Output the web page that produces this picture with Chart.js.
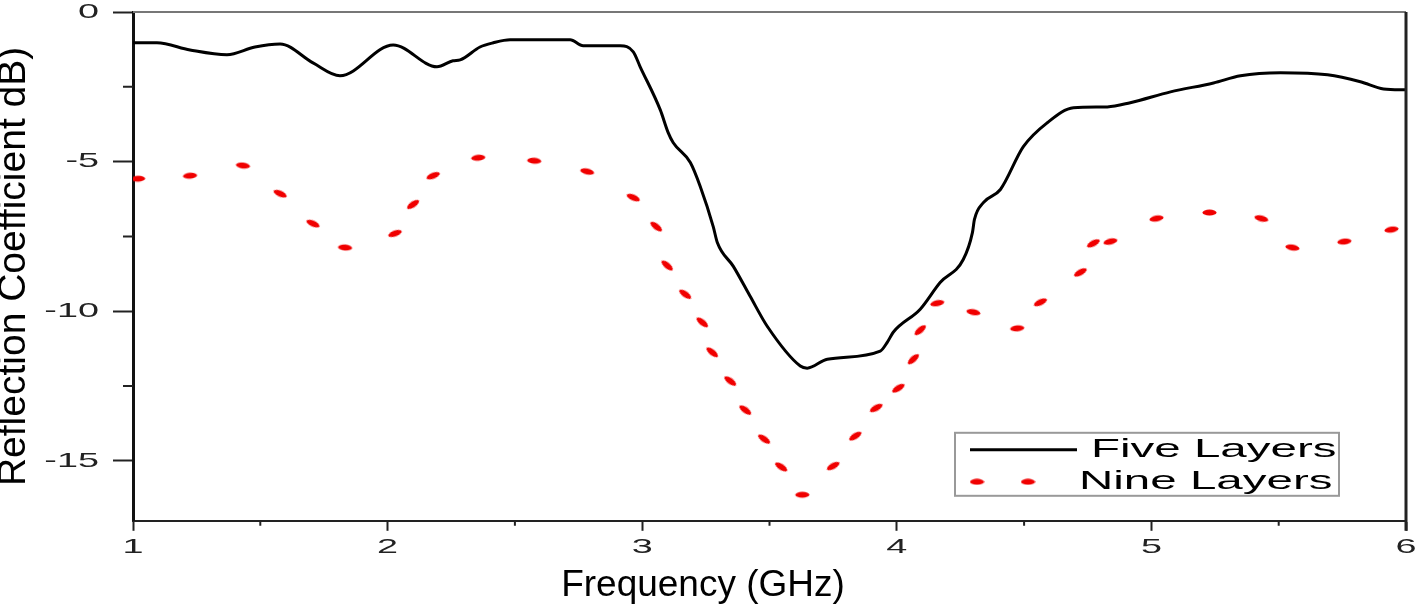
<!DOCTYPE html>
<html>
<head>
<meta charset="utf-8">
<script src="https://cdn.jsdelivr.net/npm/chart.js@4.4.0/dist/chart.umd.min.js"></script>
<style>
  html, body { margin: 0; padding: 0; background: #fff; }
</style>
</head>
<body>
<canvas id="s11-chart" width="1424" height="612"></canvas>
<script>
// Frequency (GHz) and reflection coefficient (dB)
const fiveFreq = [1.000, 1.094, 1.224, 1.369, 1.479, 1.578, 1.707, 1.813, 2.022, 2.194, 2.257, 2.285,
  2.363, 2.415, 2.481, 2.717, 2.768, 2.914, 2.965, 2.992, 3.071, 3.102, 3.122, 3.189, 3.228, 3.279,
  3.295, 3.358, 3.424, 3.491, 3.621, 3.648, 3.727, 3.935, 3.963, 3.986, 4.092, 4.171, 4.261, 4.297,
  4.305, 4.340, 4.407, 4.497, 4.591, 4.694, 4.827, 4.917, 5.075, 5.244, 5.350, 5.507, 5.692, 5.821,
  5.912, 6.000];
const fiveDb = [-1.03, -1.03, -1.27, -1.43, -1.17, -1.07, -1.70, -2.13, -1.10, -1.83, -1.63, -1.60,
  -1.17, -1.03, -0.93, -0.93, -1.13, -1.13, -1.33, -1.83, -3.27, -4.03, -4.37, -5.03, -5.83, -7.17,
  -7.70, -8.50, -9.50, -10.50, -11.83, -11.90, -11.60, -11.33, -11.03, -10.70, -9.93, -9.03, -8.27, -7.37,
  -6.93, -6.37, -5.93, -4.50, -3.70, -3.20, -3.17, -3.03, -2.67, -2.37, -2.13, -2.03, -2.10, -2.33,
  -2.57, -2.60];

// the nine layer curve is only visible as red dashes, one value per dash
const nineFreq = [1.020, 1.224, 1.432, 1.578, 1.707, 1.833, 2.029, 2.100, 2.179, 2.356, 2.576, 2.784,
  2.965, 3.055, 3.098, 3.169, 3.236, 3.275, 3.346, 3.405, 3.479, 3.546, 3.629, 3.750, 3.837, 3.919,
  4.006, 4.065, 4.092, 4.159, 4.301, 4.473, 4.564, 4.721, 4.772, 4.839, 5.020, 5.228, 5.432, 5.554,
  5.758, 5.943];
const nineDb = [-5.57, -5.47, -5.13, -6.07, -7.07, -7.87, -7.40, -6.43, -5.47, -4.87, -4.97, -5.33,
  -6.20, -7.17, -8.47, -9.43, -10.37, -11.37, -12.33, -13.30, -14.27, -15.20, -16.13, -15.17, -14.17, -13.23,
  -12.57, -11.60, -10.63, -9.73, -10.03, -10.57, -9.70, -8.70, -7.73, -7.67, -6.90, -6.70, -6.90, -7.87,
  -7.67, -7.27];

const xMinor = [1.5, 2.5, 3.5, 4.5, 5.5];
const yMinor = [-2.5, -7.5, -12.5];

const FONT = "'Liberation Sans', Arial, sans-serif";
Chart.defaults.font.family = FONT;

// the source figure is stretched sideways, so its small text is too
const STRETCH = 1.8;

// little red ellipse used as the dash marker
const dashImg = document.createElement('canvas');
dashImg.width = 15;
dashImg.height = 7;
const dctx = dashImg.getContext('2d');
dctx.fillStyle = '#f00000';
dctx.beginPath();
dctx.ellipse(7.5, 3.5, 7, 3, 0, 0, Math.PI * 2);
dctx.fill();

// tilt each dash a bit along the local slope of the curve
function dashAngle(ctx) {
  if (ctx.type !== 'data') return 0;
  const data = ctx.dataset.data, i = ctx.dataIndex;
  const xs = ctx.chart.scales.x, ys = ctx.chart.scales.y;
  const a = data[Math.max(i - 1, 0)], b = data[Math.min(i + 1, data.length - 1)];
  const dx = xs.getPixelForValue(b.x) - xs.getPixelForValue(a.x);
  const dy = ys.getPixelForValue(b.y) - ys.getPixelForValue(a.y);
  return Math.atan2(dy, dx) * 180 / Math.PI * 0.6;
}

function wideText(ctx, text, x, y, align) {
  ctx.save();
  ctx.translate(x, y);
  ctx.scale(STRETCH, 1);
  ctx.textAlign = align;
  ctx.fillText(text, 0, 0);
  ctx.restore();
}

// minor ticks, wide tick labels, top/right frame
const axisExtras = {
  id: 'axisExtras',
  afterDraw(chart) {
    const {ctx, chartArea: a, scales: {x, y}} = chart;
    ctx.save();
    ctx.strokeStyle = '#222';
    ctx.lineWidth = 2;
    ctx.beginPath();
    xMinor.forEach(v => {
      const px = x.getPixelForValue(v);
      ctx.moveTo(px, a.bottom);
      ctx.lineTo(px, a.bottom + 5);
    });
    yMinor.forEach(v => {
      const py = y.getPixelForValue(v);
      ctx.moveTo(a.left, py);
      ctx.lineTo(a.left - 10, py);
    });
    ctx.stroke();

    ctx.fillStyle = '#222';
    ctx.font = '21px ' + FONT;
    ctx.textBaseline = 'middle';
    x.ticks.forEach(t => wideText(ctx, String(t.value), x.getPixelForValue(t.value), a.bottom + 26, 'center'));
    y.ticks.forEach(t => wideText(ctx, String(t.value), a.left - 34, y.getPixelForValue(t.value), 'right'));

    ctx.strokeStyle = '#777';
    ctx.lineWidth = 2;
    ctx.beginPath();
    ctx.moveTo(a.left, a.top);
    ctx.lineTo(a.right, a.top);
    ctx.stroke();

    ctx.strokeStyle = '#222';
    ctx.lineWidth = 3;
    ctx.beginPath();
    ctx.moveTo(a.right, a.top);
    ctx.lineTo(a.right, a.bottom + 10);
    ctx.stroke();
    ctx.restore();
  }
};

// boxed legend sitting in the lower right of the plot
const boxLegend = {
  id: 'boxLegend',
  afterDraw(chart) {
    const {ctx, chartArea: a} = chart;
    const ds = chart.data.datasets;
    const right = a.right - 67, bottom = a.bottom - 25;
    const w = 384, h = 63;
    const left = right - w, top = bottom - h;
    ctx.save();
    ctx.fillStyle = '#fff';
    ctx.fillRect(left, top, w, h);
    ctx.strokeStyle = '#999';
    ctx.lineWidth = 2;
    ctx.strokeRect(left, top, w, h);

    const row1 = top + 17, row2 = top + 49;
    ctx.strokeStyle = ds[0].borderColor;
    ctx.lineWidth = 3;
    ctx.beginPath();
    ctx.moveTo(left + 15, row1);
    ctx.lineTo(left + 122, row1);
    ctx.stroke();
    ctx.drawImage(dashImg, left + 22 - 7.5, row2 - 3.5);
    ctx.drawImage(dashImg, left + 73 - 7.5, row2 - 3.5);

    ctx.fillStyle = '#000';
    ctx.font = '25px ' + FONT;
    ctx.textBaseline = 'middle';
    ctx.save();
    ctx.translate(left + 136, row1);
    ctx.scale(1.9, 1);
    ctx.fillText(ds[0].label, 0, 0);
    ctx.restore();
    ctx.save();
    ctx.translate(left + 124, row2);
    ctx.scale(1.9, 1);
    ctx.fillText(ds[1].label, 0, 0);
    ctx.restore();
    ctx.restore();
  }
};

new Chart(document.getElementById('s11-chart'), {
  type: 'line',
  data: {
    datasets: [{
      label: 'Five Layers',
      data: fiveFreq.map((f, i) => ({x: f, y: fiveDb[i]})),
      borderColor: '#000',
      borderWidth: 3,
      pointRadius: 0,
      cubicInterpolationMode: 'monotone',
      fill: false
    }, {
      label: 'Nine Layers',
      data: nineFreq.map((f, i) => ({x: f, y: nineDb[i]})),
      showLine: false,
      borderColor: '#f00000',
      backgroundColor: '#f00000',
      pointStyle: dashImg,
      pointRadius: 6,
      pointRotation: dashAngle
    }]
  },
  options: {
    responsive: false,
    animation: false,
    layout: { padding: { top: 12, right: 18, left: 0, bottom: 0 } },
    scales: {
      x: {
        type: 'linear',
        min: 1,
        max: 6,
        ticks: { stepSize: 1, display: false },
        grid: { drawOnChartArea: false, tickLength: 10, tickWidth: 2, tickColor: '#222' },
        border: { color: '#222', width: 2 },
        afterFit(scale) { scale.height = 42.8; }
      },
      y: {
        min: -17,
        max: 0,
        ticks: { stepSize: 5, includeBounds: false, display: false },
        grid: { drawOnChartArea: false, tickLength: 20, tickWidth: 2, tickColor: '#222' },
        border: { color: '#111', width: 3 },
        title: {
          display: true,
          text: 'Reflection Coefficient dB)',
          color: '#000',
          font: { size: 39, lineHeight: 0.75 },
          padding: 0
        },
        afterFit(scale) { scale.width = 133; }
      }
    },
    plugins: {
      legend: { display: false },
      tooltip: { enabled: false },
      title: {
        display: true,
        position: 'bottom',
        text: 'Frequency (GHz)',
        color: '#000',
        font: { size: 37, weight: 'normal', lineHeight: 1.2 },
        padding: { top: 0, bottom: 4 }
      }
    }
  },
  plugins: [axisExtras, boxLegend]
});
</script>
</body>
</html>
